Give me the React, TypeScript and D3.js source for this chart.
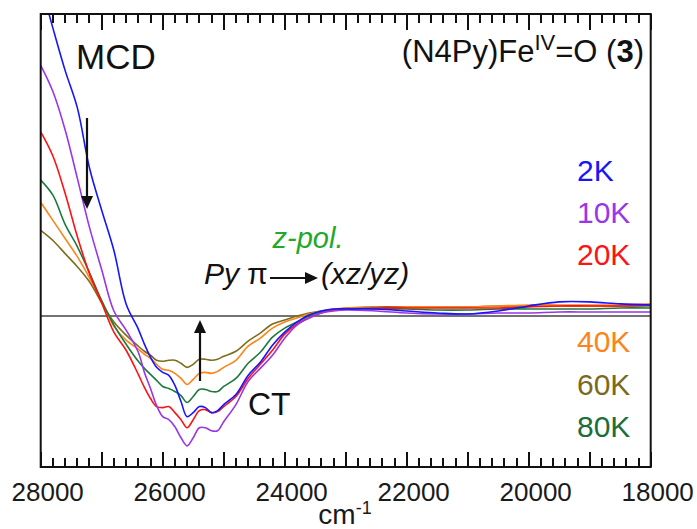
import React from 'react';
import * as d3 from 'd3';

// wavenumber grid (cm-1), shared by all temperature traces
const wavenumbers = [
  28000, 27800, 27600, 27400, 27200, 27000, 26800, 26600, 26400, 26300,
  26200, 26100, 26000, 25900, 25800, 25700, 25600, 25500, 25400, 25300,
  25200, 25100, 25000, 24800, 24600, 24400, 24200, 24000, 23800, 23600,
  23400, 23200, 23000, 22500, 22000, 21500, 21000, 20500, 20000, 19500,
  19000, 18500, 18000,
];

// MCD intensity (arb. units) at each wavenumber
const mcd2K = [
  3.3, 2.86, 2.44, 2.07, 1.47, 1.05, 0.65, 0.12, -0.13, -0.28,
  -0.41, -0.51, -0.56, -0.59, -0.69, -0.85, -1.0, -0.96, -0.9, -0.91,
  -0.96, -0.94, -0.88, -0.78, -0.59, -0.46, -0.29, -0.16, -0.06, 0.01,
  0.05, 0.07, 0.07, 0.07, 0.05, 0.03, 0.02, 0.05, 0.1, 0.14,
  0.14, 0.12, 0.11,
];
const mcd10K = [
  2.49, 2.23, 1.85, 1.37, 0.88, 0.46, 0.05, -0.14, -0.36, -0.56,
  -0.72, -0.89, -1.0, -1.03, -1.1, -1.21, -1.29, -1.21, -1.11, -1.11,
  -1.14, -1.14, -1.05, -0.88, -0.65, -0.52, -0.39, -0.22, -0.09, -0.02,
  0.03, 0.05, 0.06, 0.05, 0.03, 0.02, 0.02, 0.03, 0.03, 0.04,
  0.04, 0.04, 0.04,
];
const mcd20K = [
  1.83, 1.59, 1.22, 0.79, 0.42, 0.13, -0.16, -0.34, -0.58, -0.71,
  -0.82, -0.9, -0.91, -0.9, -0.96, -1.03, -1.11, -1.03, -0.94, -0.93,
  -0.96, -0.95, -0.9, -0.8, -0.62, -0.48, -0.34, -0.18, -0.08, -0.02,
  0.03, 0.06, 0.07, 0.08, 0.08, 0.08, 0.08, 0.08, 0.09, 0.1,
  0.1, 0.1, 0.11,
];
const mcd40K = [
  1.13, 0.95, 0.77, 0.59, 0.38, 0.15, -0.1, -0.24, -0.33, -0.38,
  -0.42, -0.48, -0.53, -0.54, -0.57, -0.62, -0.68, -0.63, -0.57, -0.56,
  -0.57, -0.55, -0.51, -0.44, -0.3, -0.22, -0.12, -0.06, -0.02, 0.02,
  0.05, 0.07, 0.08, 0.08, 0.09, 0.09, 0.09, 0.1, 0.11, 0.11,
  0.11, 0.11, 0.12,
];
const mcd60K = [
  0.85, 0.75, 0.62, 0.49, 0.34, 0.13, -0.06, -0.19, -0.3, -0.35,
  -0.39, -0.44, -0.45, -0.44, -0.44, -0.47, -0.51, -0.48, -0.43, -0.43,
  -0.44, -0.43, -0.4, -0.35, -0.25, -0.17, -0.08, -0.04, 0.0, 0.03,
  0.05, 0.06, 0.08, 0.09, 0.09, 0.09, 0.09, 0.1, 0.1, 0.1,
  0.1, 0.1, 0.1,
];
const mcd80K = [
  1.35, 1.2, 0.91, 0.69, 0.43, 0.15, -0.09, -0.28, -0.45, -0.52,
  -0.58, -0.64, -0.7, -0.72, -0.75, -0.79, -0.86, -0.8, -0.73, -0.73,
  -0.75, -0.75, -0.7, -0.62, -0.47, -0.36, -0.21, -0.12, -0.06, 0.0,
  0.04, 0.06, 0.07, 0.07, 0.07, 0.06, 0.06, 0.07, 0.07, 0.07,
  0.07, 0.08, 0.08,
];

const temperatures = ['2K', '10K', '20K', '40K', '60K', '80K'];
const xTickLabels = [28000, 26000, 24000, 22000, 20000, 18000];

const colors = ['#1515ff', '#9a35e8', '#ff1212', '#ff8418', '#7e6d1e', '#1d7a3e'];
const labelColors = ['#1515ff', '#9a35e8', '#ff1212', '#ff8418', '#7a6a1c', '#1a6e3a'];
const font = "'Liberation Sans', Arial, sans-serif";

const left = 40.7;
const right = 650.7;
const top = 14;
const bottom = 467;

const x = d3.scaleLinear().domain([28000, 18000]).range([left, right]);
const y = d3.scaleLinear().domain([-1.5, 3.0]).range([bottom, top]);

const line = d3
  .line<{ w: number; v: number }>()
  .x(d => x(d.w))
  .y(d => y(d.v))
  .curve(d3.curveCatmullRom.alpha(0.5));

const Arrow = ({ x1, y1, x2, y2, head = 13, hw = 6 }) => {
  const ang = Math.atan2(y2 - y1, x2 - x1);
  const bx = x2 - head * Math.cos(ang);
  const by = y2 - head * Math.sin(ang);
  const px = -Math.sin(ang) * hw;
  const py = Math.cos(ang) * hw;
  return (
    <g>
      <line x1={x1} y1={y1} x2={bx} y2={by} stroke="#111" strokeWidth={2.2} />
      <path d={`M${x2},${y2}L${bx + px},${by + py}L${bx - px},${by - py}Z`} fill="#111" />
    </g>
  );
};

const App = () => {
  const series = [mcd2K, mcd10K, mcd20K, mcd40K, mcd60K, mcd80K].map((vals, i) => ({
    label: temperatures[i],
    color: colors[i],
    values: vals.map((v, j) => ({ w: wavenumbers[j], v })),
  }));
  const drawOrder = [4, 3, 5, 2, 1, 0];

  // ticks: inward on top and bottom, major every 1000, minor every 200
  const tickVals = x.ticks(50);
  const major = (d: number) => d % 1000 === 0;
  const legendY = [181, 223, 265, 352, 395, 437];

  return (
    <svg
      width={697}
      height={529}
      style={{ position: 'absolute', left: 0, top: 0, background: '#fff' }}
      fontFamily={font}
    >
      <defs>
        <clipPath id="plot-clip">
          <rect x={left} y={top} width={right - left} height={bottom - top} />
        </clipPath>
      </defs>

      <line x1={left} x2={right} y1={y(0)} y2={y(0)} stroke="#444" strokeWidth={1.6} />

      <g clipPath="url(#plot-clip)">
        {drawOrder.map(i => (
          <path
            key={series[i].label}
            d={line(series[i].values) || ''}
            fill="none"
            stroke={series[i].color}
            strokeWidth={1.6}
          />
        ))}
      </g>

      {tickVals.map(d => (
        <rect
          key={`t${d}`}
          x={Math.round(x(d)) - 1}
          y={top}
          width={2}
          height={major(d) ? 16 : 9}
          fill="#111"
        />
      ))}
      {tickVals.map(d => (
        <rect
          key={`b${d}`}
          x={Math.round(x(d)) - 1}
          y={bottom - (major(d) ? 15 : 9)}
          width={2}
          height={major(d) ? 15 : 9}
          fill="#111"
        />
      ))}

      <rect
        x={left}
        y={top}
        width={right - left}
        height={bottom - top}
        fill="none"
        stroke="#111"
        strokeWidth={2}
      />

      {xTickLabels.map(d => (
        <text key={d} x={x(d) + 7} y={501} textAnchor="middle" fontSize={26} fill="#1a1a1a">
          {d}
        </text>
      ))}
      <text x={345} y={524} textAnchor="middle" fontSize={28} fill="#1a1a1a">
        cm
        <tspan dy={-10} fontSize={18}>
          -1
        </tspan>
      </text>

      {temperatures.map((t, i) => (
        <text key={t} x={577} y={legendY[i]} fontSize={30} fill={labelColors[i]}>
          {t}
        </text>
      ))}

      <text x={76} y={69} fontSize={35} fill="#111">
        MCD
      </text>
      <text x={644} y={62} textAnchor="end" fontSize={31} fill="#111">
        (N4Py)Fe
        <tspan dy={-12} fontSize={22}>
          IV
        </tspan>
        <tspan dy={12}>=O (</tspan>
        <tspan fontWeight="bold">3</tspan>
        <tspan>)</tspan>
      </text>

      <text x={248} y={415} fontSize={32} fill="#111">
        CT
      </text>

      <text x={308} y={248} textAnchor="middle" fontSize={29} fontStyle="italic" fill="#22a82a">
        z-pol.
      </text>
      <g fontSize={30} fill="#111">
        <text x={204} y={284} fontStyle="italic">
          Py
        </text>
        <text x={247} y={284}>
          π
        </text>
        <text x={321} y={284} fontStyle="italic">
          (xz/yz)
        </text>
      </g>

      <Arrow x1={270} y1={278} x2={318} y2={278} />
      <Arrow x1={87} y1={118} x2={87} y2={209} />
      <Arrow x1={200} y1={381} x2={200} y2={320} />
    </svg>
  );
};

export default App;
